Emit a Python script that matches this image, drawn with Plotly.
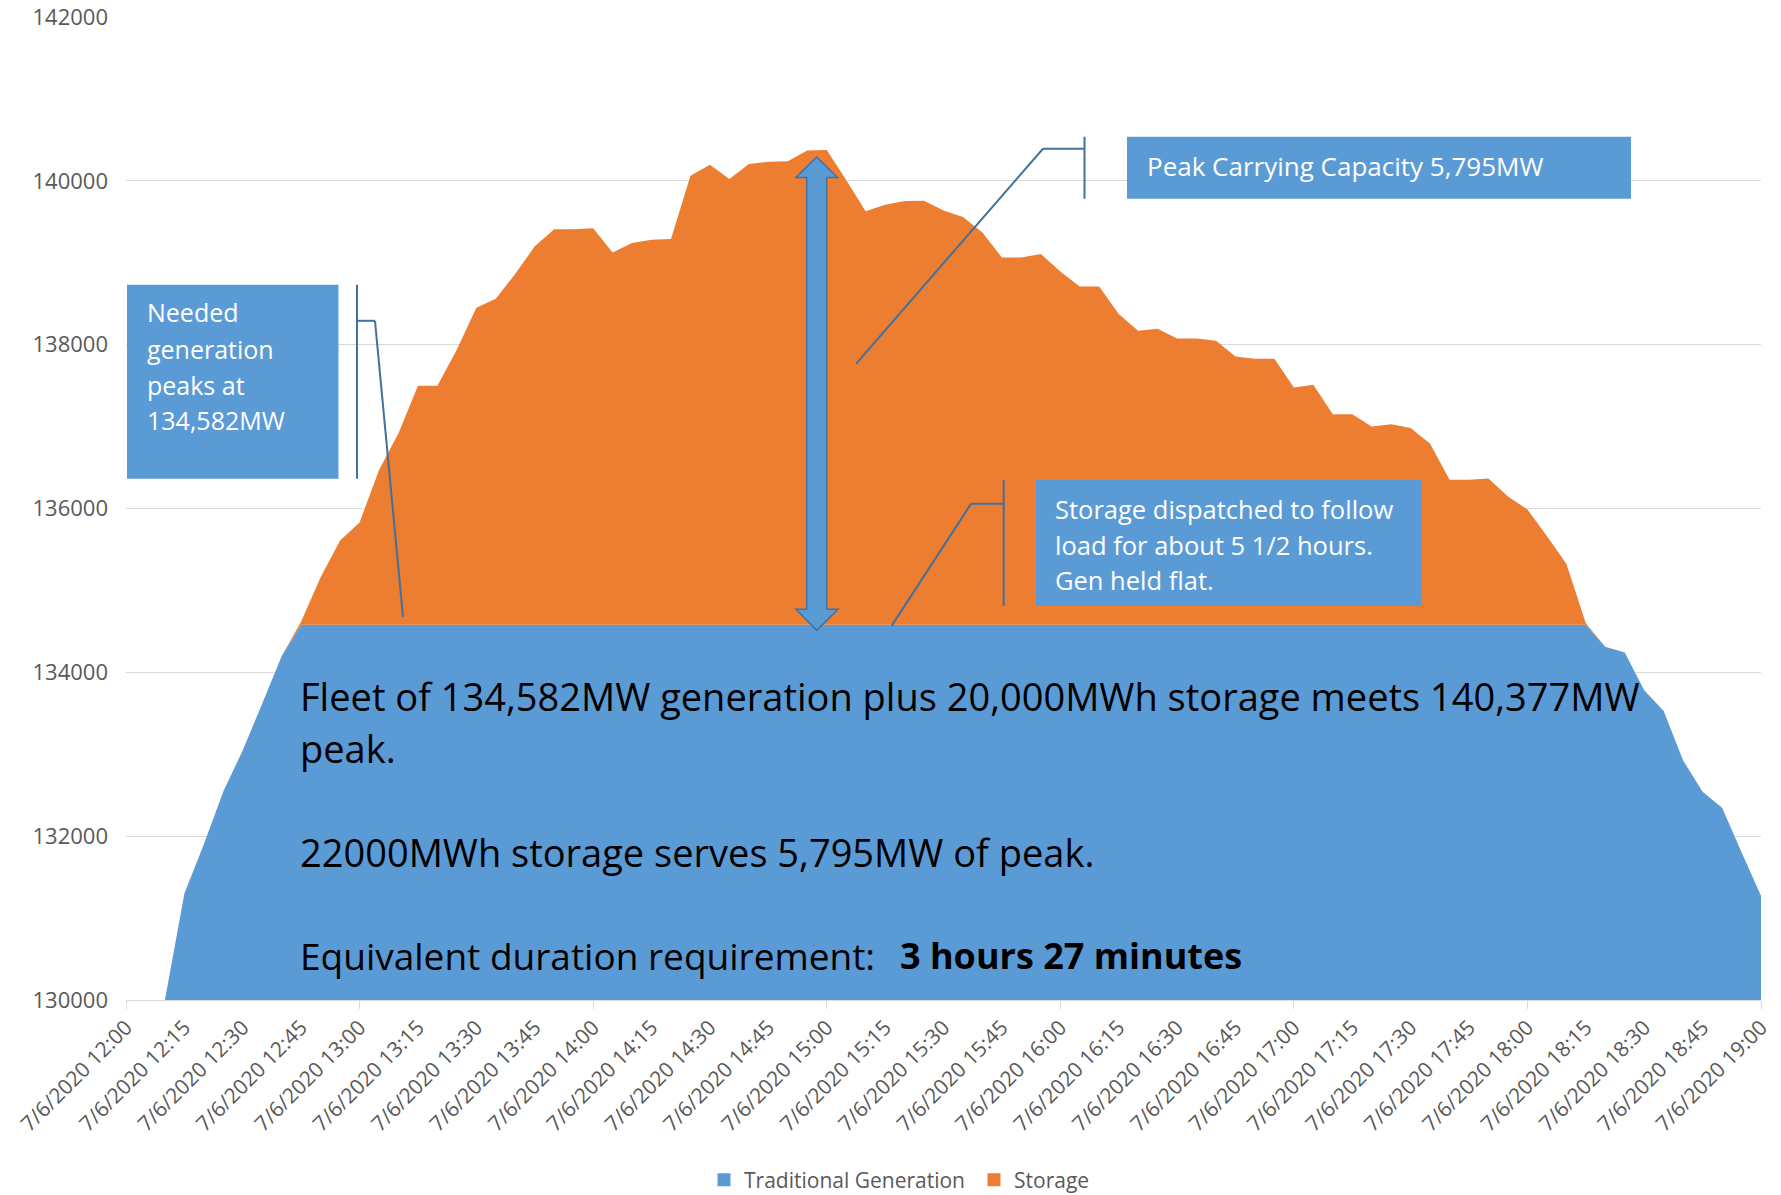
import plotly.graph_objects as go
import pandas as pd

# ---------------- data ----------------
times = pd.date_range("2020-07-06 12:05", "2020-07-06 19:00", freq="5min")

traditional_generation = [
    130000, 130000, 131300, 131900, 132545, 133050, 133620, 134200,
    134582, 134582, 134582, 134582, 134582, 134582, 134582, 134582, 134582, 134582,
    134582, 134582, 134582, 134582, 134582, 134582, 134582, 134582, 134582, 134582,
    134582, 134582, 134582, 134582, 134582, 134582, 134582, 134582, 134582, 134582,
    134582, 134582, 134582, 134582, 134582, 134582, 134582, 134582, 134582, 134582,
    134582, 134582, 134582, 134582, 134582, 134582, 134582, 134582, 134582, 134582,
    134582, 134582, 134582, 134582, 134582, 134582, 134582, 134582, 134582, 134582,
    134582, 134582, 134582, 134582, 134582, 134582, 134582,
    134313, 134241, 133782, 133527, 132924, 132541, 132348, 131804, 131273,
]

storage = [
    0, 0, 0, 0, 0, 0, 0, 0,
    38, 578, 1028, 1248, 1888, 2338, 2918, 2918, 3358, 3868, 3978, 4283,
    4618, 4828, 4828, 4838, 4544, 4658, 4699, 4708, 5480, 5614, 5440, 5623,
    5651, 5658, 5788, 5795, 5428, 5048, 5126, 5173, 5175, 5056, 4976, 4788,
    4482, 4482, 4524, 4312, 4129, 4129, 3791, 3587, 3612, 3493, 3493, 3465,
    3274, 3246, 3246, 2895, 2928, 2570, 2570, 2419, 2448, 2400, 2208, 1768,
    1768, 1783, 1565, 1406, 1083, 745, 18,
    0, 0, 0, 0, 0, 0, 0, 0, 0,
]

series_names = ["Traditional Generation", "Storage"]
y_ticks = [130000, 132000, 134000, 136000, 138000, 140000, 142000]

# ---------------- style ----------------
BLUE = "#5B9BD5"
ORANGE = "#ED7D31"
DARK = "#41719C"
GRID = "#D9D9D9"
TXT = "#595959"
FONT = "Open Sans"

W, H = 1781, 1195
# plot area in page pixel frame
X0, X1, Y0, Y1 = 126, 1761, 17.3, 1000


def px(x):
    return (x - X0) / (X1 - X0)


def py(y):
    return (Y1 - y) / (Y1 - Y0)


fig = go.Figure()
fig.add_trace(go.Scatter(x=times, y=traditional_generation, name=series_names[0],
                         stackgroup="one", mode="none", fillcolor=BLUE,
                         legendgroup="g", showlegend=False))
fig.add_trace(go.Scatter(x=times, y=storage, name=series_names[1],
                         stackgroup="one", mode="none", fillcolor=ORANGE,
                         legendgroup="s", showlegend=False))
# legend swatches
fig.add_trace(go.Scatter(x=[None], y=[None], mode="markers", name=series_names[0],
                         marker=dict(symbol="square", size=13, color=BLUE),
                         legendgroup="g"))
fig.add_trace(go.Scatter(x=[None], y=[None], mode="markers", name=series_names[1],
                         marker=dict(symbol="square", size=13, color=ORANGE),
                         legendgroup="s"))
# hourly tick marks axis
fig.add_trace(go.Scatter(x=[None], y=[None], xaxis="x2", showlegend=False,
                         hoverinfo="skip"))

shapes = []
annotations = []


def rect(x0, y0, x1, y1):
    shapes.append(dict(type="rect", xref="paper", yref="paper",
                       x0=px(x0), x1=px(x1), y0=py(y1), y1=py(y0),
                       fillcolor=BLUE, line=dict(width=0), layer="above"))


def seg(x0, y0, x1, y1, w=2):
    shapes.append(dict(type="line", xref="paper", yref="paper",
                       x0=px(x0), x1=px(x1), y0=py(y0), y1=py(y1),
                       line=dict(color=DARK, width=w), layer="above"))


def text(t, x, y, size, color, xanchor="left"):
    annotations.append(dict(text=t, xref="paper", yref="paper", x=px(x), y=py(y),
                            xanchor=xanchor, yanchor="middle", showarrow=False,
                            font=dict(family=FONT, size=size, color=color),
                            align="left", borderpad=0))


# Needed generation box
rect(127, 285, 338.5, 479)
for t, yy in zip(["Needed", "generation", "peaks at", "134,582MW"], [312, 349, 385, 420]):
    text(t, 146, yy, 25, "white")
seg(357, 285, 357, 479)
seg(357, 321, 375, 321)
seg(375, 321, 403, 617)

# Peak carrying capacity box
rect(1127, 137, 1631, 199)
text("Peak Carrying Capacity 5,795MW", 1146, 166, 26, "white")
seg(1084.5, 137, 1084.5, 199)
seg(1084.5, 149, 1043, 149)
seg(1043, 149, 856, 364)

# Storage dispatched box
rect(1036, 480, 1422, 606)
for t, yy in zip(["Storage dispatched to follow", "load for about 5 1/2 hours.",
                  "Gen held flat."], [509, 545, 580]):
    text(t, 1054, yy, 25.5, "white")
seg(1003.7, 480, 1003.7, 606)
seg(1003.7, 504, 971, 504)
seg(971, 504, 891.6, 626)

# double-headed block arrow
pts = [(816.7, 157.3), (837.5, 177.7), (826.7, 177.7), (826.7, 609.3), (838, 609.3),
       (816.8, 630.5), (796, 609.3), (806.7, 609.3), (806.7, 177.7), (796, 177.7)]
path = "M " + " L ".join(f"{px(a):.5f},{py(b):.5f}" for a, b in pts) + " Z"
shapes.append(dict(type="path", xref="paper", yref="paper", path=path,
                   fillcolor=BLUE, line=dict(color=DARK, width=1.5), layer="above"))

# main text
text("Fleet of 134,582MW generation plus 20,000MWh storage meets 140,377MW", 299, 696, 38, "black")
text("peak.", 299, 748, 38, "black")
text("22000MWh storage serves 5,795MW of peak.", 299, 852, 38, "black")
text("Equivalent duration requirement:", 299, 956, 37, "black")
text("<b>3 hours 27 minutes</b>", 899, 956, 36, "black")

fig.update_layout(
    width=W, height=H,
    margin=dict(l=X0, r=W - X1, t=Y0, b=H - Y1, autoexpand=False),
    paper_bgcolor="white", plot_bgcolor="white",
    font=dict(family=FONT, size=21, color=TXT),
    shapes=shapes, annotations=annotations,
    showlegend=True,
    legend=dict(orientation="h", x=px(704), xanchor="left", y=py(1180), yanchor="middle",
                font=dict(family=FONT, size=21, color=TXT), itemwidth=30,
                entrywidth=225, bgcolor="rgba(0,0,0,0)"),
    xaxis=dict(type="date", range=["2020-07-06 12:00", "2020-07-06 19:00"],
               tick0="2020-07-06 12:00", dtick=15 * 60 * 1000,
               tickformat="%-m/%-d/%Y %H:%M", tickangle=-45,
               tickfont=dict(family=FONT, size=21, color=TXT),
               showgrid=False, showline=True, linecolor=GRID, linewidth=1,
               ticks="", zeroline=False, automargin=False, ticklabeloverflow="allow",
               ticklabelstandoff=6),
    xaxis2=dict(type="date", overlaying="x", anchor="y", side="bottom",
                range=["2020-07-06 12:00", "2020-07-06 19:00"],
                tick0="2020-07-06 12:00", dtick=60 * 60 * 1000,
                ticks="outside", ticklen=8, tickcolor=GRID, tickwidth=1,
                showticklabels=False, showgrid=False, showline=False, zeroline=False,
                automargin=False),
    yaxis=dict(range=[130000, 142000], tickvals=y_ticks, tickformat="d",
               tickfont=dict(family=FONT, size=22, color=TXT),
               showgrid=True, gridcolor=GRID, gridwidth=1, zeroline=False,
               showline=False, ticks="", ticklabelstandoff=17, automargin=False,
               ticklabeloverflow="allow"),
)

fig.write_html("out.html", config={"displayModeBar": False},
               post_script="document.body.style.margin='0px';")
